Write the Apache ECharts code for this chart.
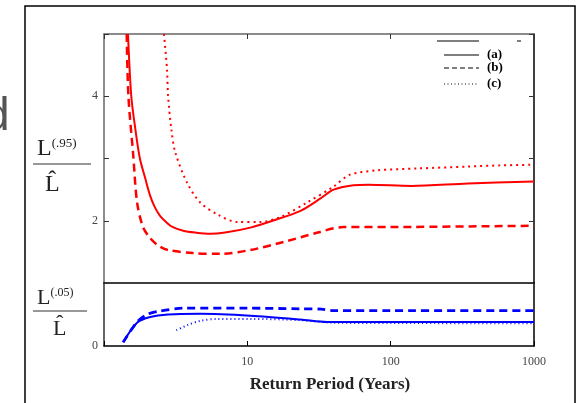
<!DOCTYPE html>
<html>
<head>
<meta charset="utf-8">
<script src="https://cdn.jsdelivr.net/npm/echarts@6/dist/echarts.min.js"></script>
<style>
  html, body { margin: 0; padding: 0; background: #fff; }
  #main { width: 579px; height: 403px; }
</style>
</head>
<body>
<div id="main"></div>
<script>
    // 上面板 L(.95)/L^ ，下面板 L(.05)/L^ ，横轴为重现期（对数）
    var upperA = [[1.47,5.0],[1.55,4.0],[1.66,3.45],[1.78,3.0],[1.935,2.69],[2.1,2.4],[2.27,2.21],[2.46,2.08],[2.71,1.98],[3.0,1.9],[3.57,1.84],[4.33,1.81],[5.5,1.79],[7,1.81],[10.5,1.89],[15,2.0],[23.5,2.16],[32,2.35],[40,2.5],[55,2.57],[70,2.58],[140,2.56],[345,2.6],[1000,2.63]];
    var upperB = [[1.44,5.0],[1.48,4.0],[1.6,3.05],[1.7,2.3],[1.87,1.9],[2.1,1.72],[2.4,1.6],[2.8,1.53],[4.2,1.48],[6.5,1.47],[10.5,1.53],[18,1.66],[31,1.81],[47,1.9],[100,1.9],[1000,1.92]];
    var upperC = [[2.62,5.0],[2.75,4.44],[2.8,4.0],[2.95,3.47],[3.14,3.1],[3.8,2.61],[4.7,2.29],[6.2,2.1],[8.5,1.98],[12.3,1.98],[17,2.06],[26,2.29],[40,2.55],[52,2.74],[81,2.81],[155,2.84],[345,2.87],[590,2.89],[1000,2.9]];

    var lowerA = [[1.36,0.06],[1.7,0.37],[2.1,0.46],[2.8,0.5],[4.7,0.51],[10.5,0.48],[23.5,0.42],[36,0.38],[100,0.38],[1000,0.38]];
    var lowerB = [[1.36,0.06],[1.7,0.38],[2.0,0.5],[2.4,0.55],[3.6,0.6],[10,0.6],[23.5,0.59],[33,0.585],[40,0.56],[100,0.56],[1000,0.56]];
    var lowerC = [[3.2,0.25],[3.8,0.33],[4.7,0.4],[6.2,0.43],[10.5,0.43],[23.5,0.41],[40,0.37],[100,0.365],[1000,0.36]];

    var xTicks = ['10', '100', '1000'];
    var upperTicks = [2, 4];
    var lowerTicks = [0];

    var serif = '"Liberation Serif", "DejaVu Serif", serif';
    var chart = echarts.init(document.getElementById('main'));

    var option = {
        backgroundColor: '#fff',
        animation: false,
        grid: [
            {left: 104, top: 34, width: 430, height: 249},
            {left: 104, top: 283, width: 430, height: 63}
        ],
        xAxis: [
            {gridIndex: 0, type: 'log', min: 1, max: 1000, position: 'bottom',
                axisLine: {lineStyle: {color: '#000', width: 1.5}}, axisTick: {show: false},
                axisLabel: {show: false}, splitLine: {show: false}},
            {gridIndex: 0, type: 'log', min: 1, max: 1000, position: 'top',
                axisLine: {lineStyle: {color: '#666', width: 1.5}},
                axisTick: {inside: true, length: 5, lineStyle: {color: '#333'}},
                axisLabel: {show: false}, splitLine: {show: false}},
            {gridIndex: 1, type: 'log', min: 1, max: 1000, position: 'bottom',
                axisLine: {lineStyle: {color: '#000', width: 1.5}},
                axisTick: {inside: true, length: 5, lineStyle: {color: '#000'}},
                axisLabel: {
                    margin: 10, color: '#444', fontFamily: serif, fontSize: 12,
                    formatter: function (v) { return xTicks.indexOf(String(v)) >= 0 ? String(v) : ''; }
                },
                splitLine: {show: false}}
        ],
        yAxis: [
            {gridIndex: 0, type: 'value', min: 1, max: 5, interval: 1, position: 'left',
                axisLine: {show: true, lineStyle: {color: '#666', width: 1.5}},
                axisTick: {inside: true, length: 5, lineStyle: {color: '#333'}},
                axisLabel: {
                    margin: 6, color: '#444', fontFamily: serif, fontSize: 12,
                    formatter: function (v) { return upperTicks.indexOf(v) >= 0 ? String(v) : ''; }
                },
                splitLine: {show: false}},
            {gridIndex: 0, type: 'value', min: 1, max: 5, interval: 1, position: 'right',
                axisLine: {show: true, lineStyle: {color: '#000', width: 1.5}},
                axisTick: {inside: true, length: 5, lineStyle: {color: '#333'}},
                axisLabel: {show: false}, splitLine: {show: false}},
            {gridIndex: 1, type: 'value', min: 0, max: 1, interval: 1, position: 'left',
                axisLine: {show: true, lineStyle: {color: '#333', width: 1.5}},
                axisTick: {show: false},
                axisLabel: {
                    margin: 6, color: '#444', fontFamily: serif, fontSize: 12,
                    formatter: function (v) { return lowerTicks.indexOf(v) >= 0 ? String(v) : ''; }
                },
                splitLine: {show: false}},
            {gridIndex: 1, type: 'value', min: 0, max: 1, interval: 1, position: 'right',
                axisLine: {show: true, lineStyle: {color: '#000', width: 1.5}},
                axisTick: {show: false}, axisLabel: {show: false}, splitLine: {show: false}}
        ],
        series: [
            {name: '(a)', type: 'line', xAxisIndex: 0, yAxisIndex: 0, data: upperA, smooth: 0.3, symbol: 'none',
                lineStyle: {color: '#ff0000', width: 2}},
            {name: '(b)', type: 'line', xAxisIndex: 0, yAxisIndex: 0, data: upperB, smooth: 0.3, symbol: 'none',
                lineStyle: {color: '#ff0000', width: 2.5, type: [8, 5]}},
            {name: '(c)', type: 'line', xAxisIndex: 0, yAxisIndex: 0, data: upperC, smooth: 0.3, symbol: 'none',
                lineStyle: {color: '#ff0000', width: 2, type: [2, 4]}},
            {name: '(a) ', type: 'line', xAxisIndex: 2, yAxisIndex: 2, data: lowerA, smooth: 0.3, symbol: 'none',
                lineStyle: {color: '#0000ff', width: 2}},
            {name: '(b) ', type: 'line', xAxisIndex: 2, yAxisIndex: 2, data: lowerB, smooth: 0.3, symbol: 'none',
                lineStyle: {color: '#0000ff', width: 2.8, type: [8, 5]}},
            {name: '(c) ', type: 'line', xAxisIndex: 2, yAxisIndex: 2, data: lowerC, smooth: 0.3, symbol: 'none',
                lineStyle: {color: '#0000ff', width: 2, type: [1, 3]}}
        ],
        graphic: [
            // 外框
            {type: 'polyline', shape: {points: [[25, 410], [25, 6], [575, 6], [575, 410]]},
                style: {stroke: '#000', lineWidth: 1.5, fill: null}},
            // 左侧残字
            {type: 'text', left: -16, top: 94,
                style: {text: 'd', font: '46px "Liberation Sans", sans-serif', fill: '#555'}},
            // 图例
            {type: 'line', shape: {x1: 437, y1: 41, x2: 479, y2: 41}, style: {stroke: '#555', lineWidth: 1.5}},
            {type: 'line', shape: {x1: 517, y1: 41, x2: 521, y2: 41}, style: {stroke: '#555', lineWidth: 1.5}},
            {type: 'line', shape: {x1: 444, y1: 55, x2: 479, y2: 55}, style: {stroke: '#000', lineWidth: 1.2}},
            {type: 'line', shape: {x1: 444, y1: 68, x2: 479, y2: 68}, style: {stroke: '#000', lineWidth: 1.2, lineDash: [5, 3]}},
            {type: 'line', shape: {x1: 444, y1: 84, x2: 479, y2: 84}, style: {stroke: '#000', lineWidth: 1, lineDash: [1, 2.5]}},
            {type: 'text', x: 487, y: 55, style: {text: '(a)', font: 'bold 13px ' + serif, fill: '#000', textVerticalAlign: 'middle'}},
            {type: 'text', x: 487, y: 68, style: {text: '(b)', font: 'bold 13px ' + serif, fill: '#000', textVerticalAlign: 'middle'}},
            {type: 'text', x: 487, y: 84, style: {text: '(c)', font: 'bold 13px ' + serif, fill: '#000', textVerticalAlign: 'middle'}},
            // 纵轴标题（分式）
            {type: 'text', x: 37, y: 161, style: {
                text: '{l|L}{s|(.95)}', textVerticalAlign: 'bottom',
                rich: {l: {fontFamily: serif, fontSize: 24, fill: '#222'},
                       s: {fontFamily: serif, fontSize: 13, fill: '#222', verticalAlign: 'top', padding: [0, 0, 10, 0]}}}},
            {type: 'line', shape: {x1: 33, y1: 164, x2: 91, y2: 164}, style: {stroke: '#333', lineWidth: 1.2}},
            {type: 'text', x: 45, y: 197, style: {text: 'L\u0302', font: '24px ' + serif, fill: '#222', textVerticalAlign: 'bottom'}},

            {type: 'text', x: 37, y: 309, style: {
                text: '{l|L}{s|(.05)}', textVerticalAlign: 'bottom',
                rich: {l: {fontFamily: serif, fontSize: 22, fill: '#222'},
                       s: {fontFamily: serif, fontSize: 12, fill: '#222', verticalAlign: 'top', padding: [0, 0, 9, 0]}}}},
            {type: 'line', shape: {x1: 33, y1: 311, x2: 87, y2: 311}, style: {stroke: '#333', lineWidth: 1.2}},
            {type: 'text', x: 53, y: 340, style: {text: 'L\u0302', font: '22px ' + serif, fill: '#222', textVerticalAlign: 'bottom'}},
            // 横轴标题
            {type: 'text', x: 330, y: 385, style: {
                text: 'Return Period (Years)', font: 'bold 17px ' + serif, fill: '#222',
                textAlign: 'center', textVerticalAlign: 'middle'}}
        ]
    };
    chart.setOption(option);
</script>
</body>
</html>
